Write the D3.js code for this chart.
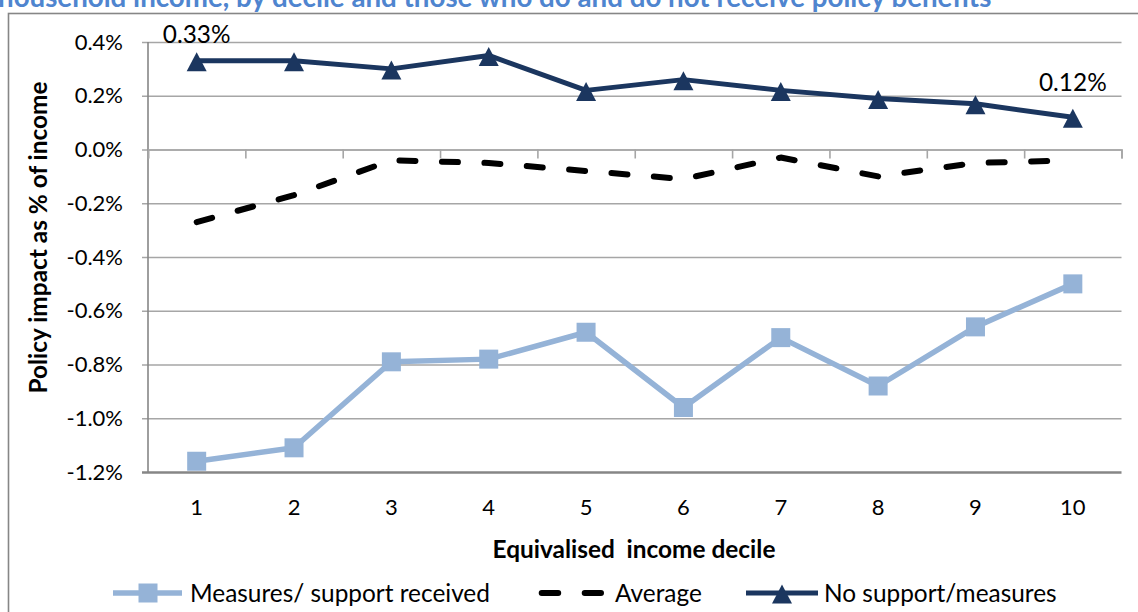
<!DOCTYPE html>
<html>
<head>
<meta charset="utf-8">
<script src="https://cdn.jsdelivr.net/npm/d3@7"></script>
<style>
  html, body { margin: 0; padding: 0; background: #fff; }
  svg { display: block; font-family: Lato, "Open Sans", sans-serif; }
</style>
</head>
<body>
<svg id="chart" width="1138" height="612"></svg>
<script>
// Policy impact as % of income by equivalised income decile
const deciles = ["1", "2", "3", "4", "5", "6", "7", "8", "9", "10"];
const measuresReceived = [-1.16, -1.11, -0.79, -0.78, -0.68, -0.96, -0.70, -0.88, -0.66, -0.50];
const averageImpact = [-0.27, -0.17, -0.04, -0.05, -0.08, -0.11, -0.03, -0.10, -0.05, -0.04];
const noSupport = [0.33, 0.33, 0.30, 0.35, 0.22, 0.26, 0.22, 0.19, 0.17, 0.12];
const yTickValues = [-1.2, -1.0, -0.8, -0.6, -0.4, -0.2, 0.0, 0.2, 0.4];
const labelledPoints = [0, 9];   // decile indexes with value labels on the "no support" line
const legendNames = ["Measures/ support received", "Average", "No support/measures"];
const titleText = "household income, by decile and those who do and do not receive policy benefits";
const xTitle = "Equivalised\u00a0 income decile";
const yTitle = "Policy impact as % of income";

const colors = {
  measures: "#95b3d7",
  average: "#000000",
  noSupport: "#1b365f",
  grid: "#a6a6a6",
  axis: "#868686",
  text: "#000000",
  title: "#4f85cf"
};

const svg = d3.select("#chart");
const plot = { left: 148, right: 1121.5, top: 42, bottom: 472 };
const tickFs = 22;   // axis tick labels
const fs = 24.4;     // titles, value labels, legend

// frame of the chart area
svg.append("rect")
  .attr("x", 8.5).attr("y", 13.5)
  .attr("width", 1300).attr("height", 800)
  .attr("fill", "none").attr("stroke", colors.axis).attr("stroke-width", 1.6);

// heading, largely cut off above the frame
const title = svg.append("text")
  .attr("x", -2).attr("y", 7)
  .attr("font-weight", "bold")
  .attr("font-size", 22)
  .attr("fill", colors.title)
  .text(titleText);
{
  const w = title.node().getComputedTextLength();
  title.attr("font-size", 22 * 994 / w);
}

const x = d3.scaleBand().domain(deciles).range([plot.left, plot.right]);
const xEdge = d3.scaleLinear().domain([0, deciles.length]).range([plot.left, plot.right]);
const y = d3.scaleLinear().domain([-1.2, 0.4]).range([plot.bottom, plot.top]);
const cx = (d, i) => x(deciles[i]) + x.bandwidth() / 2;

// horizontal gridlines with tick labels
const yAxis = svg.append("g")
  .attr("transform", `translate(${plot.left - 6},0)`)
  .call(d3.axisLeft(y)
    .tickValues(yTickValues)
    .tickSize(-(plot.right - plot.left + 6))
    .tickPadding(19)
    .tickFormat(v => v.toFixed(1) + "%"));
yAxis.select(".domain").remove();
yAxis.selectAll(".tick line")
  .attr("stroke", colors.grid).attr("stroke-width", 1.6);
yAxis.selectAll(".tick text")
  .attr("font-size", tickFs).attr("fill", colors.text)
  .attr("font-family", "Lato, sans-serif");
yAxis.selectAll(".tick").filter(v => v === -1.2).select("line")
  .attr("stroke", colors.axis).attr("stroke-width", 2.4);

// vertical axis line
svg.append("line")
  .attr("x1", plot.left).attr("x2", plot.left)
  .attr("y1", plot.top).attr("y2", plot.bottom)
  .attr("stroke", colors.axis).attr("stroke-width", 1.6);

// category boundary ticks on the zero line
const edgeAxis = svg.append("g")
  .attr("transform", `translate(0,${y(0)})`)
  .call(d3.axisBottom(xEdge)
    .tickValues(d3.range(0, deciles.length + 1))
    .tickSize(9)
    .tickFormat(""));
edgeAxis.select(".domain").attr("stroke", colors.grid).attr("stroke-width", 1.6);
edgeAxis.selectAll(".tick line").attr("stroke", colors.grid).attr("stroke-width", 1.6);

// decile labels below the plot
const xAxis = svg.append("g")
  .attr("transform", `translate(0,${plot.bottom})`)
  .call(d3.axisBottom(x).tickSize(0).tickPadding(27.5));
xAxis.select(".domain").remove();
xAxis.selectAll(".tick text")
  .attr("font-size", tickFs).attr("fill", colors.text)
  .attr("font-family", "Lato, sans-serif");

// axis titles
svg.append("text")
  .attr("x", 634).attr("y", 558)
  .attr("text-anchor", "middle")
  .attr("font-weight", "bold").attr("font-size", fs)
  .attr("fill", colors.text)
  .text(xTitle);
svg.append("text")
  .attr("transform", "translate(47,237.5) rotate(-90)")
  .attr("text-anchor", "middle")
  .attr("font-weight", "bold").attr("font-size", fs)
  .attr("fill", colors.text)
  .text(yTitle);

const line = d3.line().x(cx).y(d => y(d));

// isosceles triangle marker, about as tall as it is wide
const triangleMarker = {
  draw(context, size) {
    const w = Math.sqrt(size), h = w * 0.95;
    context.moveTo(0, -h / 2);
    context.lineTo(w / 2, h / 2);
    context.lineTo(-w / 2, h / 2);
    context.closePath();
  }
};
const tri = d3.symbol().type(triangleMarker).size(400);

// Measures / support received
svg.append("path")
  .datum(measuresReceived)
  .attr("d", line)
  .attr("fill", "none").attr("stroke", colors.measures)
  .attr("stroke-width", 5.5).attr("stroke-linejoin", "round");
svg.append("g").selectAll("rect")
  .data(measuresReceived)
  .join("rect")
  .attr("x", (d, i) => cx(d, i) - 9.5)
  .attr("y", d => y(d) - 9.5)
  .attr("width", 19).attr("height", 19)
  .attr("fill", colors.measures);

// Average
svg.append("path")
  .datum(averageImpact)
  .attr("d", line)
  .attr("fill", "none").attr("stroke", colors.average)
  .attr("stroke-width", 6)
  .attr("stroke-linecap", "round").attr("stroke-linejoin", "round")
  .attr("stroke-dasharray", "16 26.5");

// No support / measures
svg.append("path")
  .datum(noSupport)
  .attr("d", line)
  .attr("fill", "none").attr("stroke", colors.noSupport)
  .attr("stroke-width", 5).attr("stroke-linejoin", "round");
svg.append("g").selectAll("path")
  .data(noSupport)
  .join("path")
  .attr("d", tri)
  .attr("transform", (d, i) => `translate(${cx(d, i)},${y(d) + 1})`)
  .attr("fill", colors.noSupport);

// value labels at the ends of the "no support" line
const labelLift = [26, 35];
svg.append("g").selectAll("text")
  .data(labelledPoints)
  .join("text")
  .attr("x", i => cx(noSupport[i], i))
  .attr("y", (i, k) => y(noSupport[i]) - labelLift[k])
  .attr("dy", "0.35em")
  .attr("text-anchor", "middle")
  .attr("font-size", fs).attr("fill", colors.text)
  .text(i => noSupport[i].toFixed(2) + "%");

// legend
const legendY = 593;
const lg = svg.append("g");
// measures
lg.append("line").attr("x1", 113).attr("x2", 182).attr("y1", legendY).attr("y2", legendY)
  .attr("stroke", colors.measures).attr("stroke-width", 5.5);
lg.append("rect").attr("x", 148 - 9.5).attr("y", legendY - 9.5).attr("width", 19).attr("height", 19)
  .attr("fill", colors.measures);
lg.append("text").attr("x", 190).attr("y", legendY).attr("dy", "0.35em")
  .attr("font-size", fs).attr("fill", colors.text).text(legendNames[0]);
// average
lg.append("line").attr("x1", 541.7).attr("x2", 601).attr("y1", legendY).attr("y2", legendY)
  .attr("stroke", colors.average).attr("stroke-width", 6)
  .attr("stroke-linecap", "round").attr("stroke-dasharray", "16.5 26.5");
lg.append("text").attr("x", 615).attr("y", legendY).attr("dy", "0.35em")
  .attr("font-size", fs).attr("fill", colors.text).text(legendNames[1]);
// no support
lg.append("line").attr("x1", 746).attr("x2", 818).attr("y1", legendY).attr("y2", legendY)
  .attr("stroke", colors.noSupport).attr("stroke-width", 5);
lg.append("path").attr("d", tri).attr("transform", `translate(782,${legendY + 1})`)
  .attr("fill", colors.noSupport);
lg.append("text").attr("x", 824).attr("y", legendY).attr("dy", "0.35em")
  .attr("font-size", fs).attr("fill", colors.text).text(legendNames[2]);
</script>
</body>
</html>
